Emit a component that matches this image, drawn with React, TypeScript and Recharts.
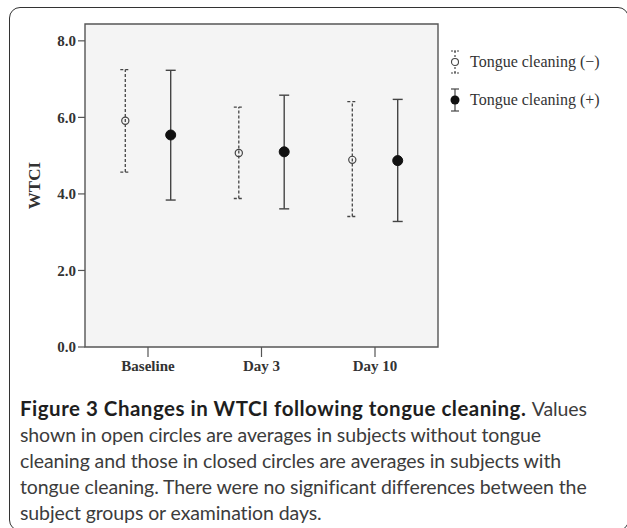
import React from 'react';
import { ScatterChart, Scatter, XAxis, YAxis, ErrorBar, ReferenceArea } from 'recharts';

const categories = ['Baseline', 'Day 3', 'Day 10'];

// Tongue cleaning (−): open circles, dashed error bars
const meanMinus = [5.91, 5.07, 4.89];
const lowMinus = [4.57, 3.88, 3.41];
const highMinus = [7.25, 6.27, 6.41];

// Tongue cleaning (+): closed circles, solid error bars
const meanPlus = [5.54, 5.1, 4.87];
const lowPlus = [3.84, 3.61, 3.28];
const highPlus = [7.23, 6.58, 6.47];

const yTicks = [0, 2, 4, 6, 8];
const seriesNames = ['Tongue cleaning (\u2212)', 'Tongue cleaning (+)'];

const captionTitle = 'Figure 3 Changes in WTCI following tongue cleaning.';
const captionLines = [
  'Values',
  'shown in open circles are averages in subjects without tongue',
  'cleaning and those in closed circles are averages in subjects with',
  'tongue cleaning. There were no significant differences between the',
  'subject groups or examination days.',
];

const dodge = 0.2;

const toPoints = (mean: number[], low: number[], high: number[], shift: number) =>
  mean.map((m, i) => ({
    x: i + 1 + shift,
    y: m,
    err: [m - low[i], high[i] - m],
  }));

const minusData = toPoints(meanMinus, lowMinus, highMinus, -dodge);
const plusData = toPoints(meanPlus, lowPlus, highPlus, dodge);

const serif = '"Liberation Serif", "DejaVu Serif", serif';
const axisColor = '#555';

const OpenDot = (props: any) => (
  <circle cx={props.cx} cy={props.cy} r={3.6} fill="none" stroke="#444" strokeWidth={1.2} />
);
const FilledDot = (props: any) => (
  <circle cx={props.cx} cy={props.cy} r={5} fill="#111" stroke="#111" strokeWidth={1} />
);

function LegendIcon({ filled }: { filled: boolean }) {
  return (
    <svg width={12} height={24} style={{ display: 'block' }}>
      <line x1={6} y1={1} x2={6} y2={23} stroke="#444" strokeWidth={1.2} strokeDasharray={filled ? undefined : '2 2'} />
      <line x1={2} y1={1} x2={10} y2={1} stroke="#444" strokeWidth={1.2} strokeDasharray={filled ? undefined : '2 1'} />
      <line x1={2} y1={23} x2={10} y2={23} stroke="#444" strokeWidth={1.2} strokeDasharray={filled ? undefined : '2 1'} />
      {filled ? (
        <circle cx={6} cy={12} r={4.5} fill="#111" />
      ) : (
        <circle cx={6} cy={12} r={3.5} fill="#fff" stroke="#444" strokeWidth={1.1} />
      )}
    </svg>
  );
}

export default function App() {
  return (
    <div
      style={{
        position: 'absolute',
        left: 0,
        top: 0,
        width: 627,
        height: 528,
        overflow: 'hidden',
        background: '#fff',
      }}
    >
      {/* outer frame */}
      <div
        style={{
          position: 'absolute',
          left: 9,
          top: 7,
          width: 620,
          height: 524,
          border: '1.5px solid #333',
          borderRadius: 11,
          boxSizing: 'border-box',
        }}
      />

      <div style={{ position: 'absolute', left: 0, top: 0 }}>
        <ScatterChart width={627} height={390} margin={{ top: 24, right: 189, bottom: 0, left: 0 }}>
          <XAxis
            type="number"
            dataKey="x"
            domain={[0.445, 3.555]}
            ticks={[1, 2, 3]}
            tickFormatter={(v: number) => categories[v - 1]}
            height={43}
            tickSize={10}
            tickMargin={3}
            axisLine={false}
            tickLine={{ stroke: axisColor, strokeWidth: 1.2 }}
            tick={{ fontFamily: serif, fontSize: 15, fontWeight: 'bold', fill: '#333' }}
            allowDataOverflow
          />
          <YAxis
            type="number"
            dataKey="y"
            domain={[0, 8.44]}
            ticks={yTicks}
            tickFormatter={(v: number) => v.toFixed(1)}
            width={85}
            tickSize={7}
            tickMargin={2}
            axisLine={false}
            tickLine={{ stroke: axisColor, strokeWidth: 1.2 }}
            tick={{ fontFamily: serif, fontSize: 15, fontWeight: 'bold', fill: '#333' }}
            allowDataOverflow
            label={{
              value: 'WTCI',
              angle: -90,
              position: 'insideLeft',
              offset: 34,
              style: { textAnchor: 'middle', fontFamily: serif, fontSize: 17, fontWeight: 'bold', fill: '#333' },
            }}
          />
          <ReferenceArea
            x1={0.445}
            x2={3.555}
            y1={0}
            y2={8.44}
            fill="#f4f4f4"
            fillOpacity={1}
            stroke={axisColor}
            strokeWidth={1.4}
            ifOverflow="visible"
          />
          <Scatter name={seriesNames[0]} data={minusData} shape={OpenDot} isAnimationActive={false}>
            <ErrorBar
              dataKey="err"
              direction="y"
              width={5}
              stroke="#444"
              strokeWidth={1.3}
              strokeDasharray="3 2"
              isAnimationActive={false}
            />
          </Scatter>
          <Scatter name={seriesNames[1]} data={plusData} shape={FilledDot} isAnimationActive={false}>
            <ErrorBar
              dataKey="err"
              direction="y"
              width={5}
              stroke="#444"
              strokeWidth={1.4}
              isAnimationActive={false}
            />
          </Scatter>
        </ScatterChart>
      </div>

      {/* legend */}
      <div style={{ position: 'absolute', left: 449, top: 50 }}>
        {seriesNames.map((name, i) => (
          <div
            key={name}
            style={{ display: 'flex', alignItems: 'center', height: 24, marginBottom: 14 }}
          >
            <LegendIcon filled={i === 1} />
            <span
              style={{
                marginLeft: 9,
                fontFamily: serif,
                fontSize: 16,
                color: '#333',
                whiteSpace: 'nowrap',
              }}
            >
              {name}
            </span>
          </div>
        ))}
      </div>

      {/* caption */}
      <div
        style={{
          position: 'absolute',
          left: 20,
          top: 395,
          fontFamily: 'Lato, "Open Sans", sans-serif',
          fontSize: 19.5,
          letterSpacing: -0.1,
          lineHeight: '26px',
          color: '#3c3c3c',
          whiteSpace: 'nowrap',
        }}
      >
        {captionLines.map((line, i) => (
          <div key={i}>
            {i === 0 && (
              <span style={{ fontWeight: 'bold', color: '#1e1e1e', fontSize: 20.5, letterSpacing: 0.5 }}>
                {captionTitle}{' '}
              </span>
            )}
            {line}
          </div>
        ))}
      </div>
    </div>
  );
}
